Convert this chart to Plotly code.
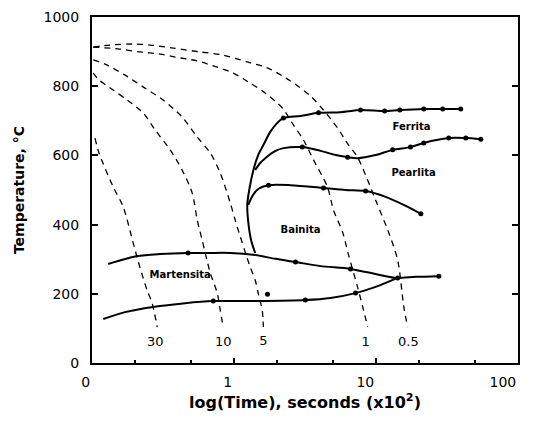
import plotly.graph_objects as go

# ---------------- data (time in x10^2 s, temperature in degC) ----------------
# dashed cooling curves, labelled by cooling rate
cool_30_t = [0.105, 0.112, 0.141, 0.166, 0.195, 0.218, 0.244, 0.265, 0.288]
cool_30_T = [650, 607, 509, 451, 347, 275, 211, 173, 104]

cool_10_t = [0.102, 0.112, 0.141, 0.177, 0.229, 0.279, 0.355, 0.431, 0.508, 0.551, 0.597, 0.627, 0.681, 0.762, 0.800, 0.839]
cool_10_T = [838, 818, 789, 760, 723, 673, 616, 558, 491, 413, 355, 318, 260, 202, 153, 104]

cool_5_t = [0.102, 0.128, 0.171, 0.229, 0.317, 0.431, 0.551, 0.681, 0.800, 0.942, 1.02, 1.11, 1.20, 1.30, 1.41, 1.48, 1.58, 1.61]
cool_5_T = [876, 861, 832, 798, 760, 711, 653, 607, 549, 462, 413, 364, 321, 277, 240, 202, 153, 104]

cool_1_t = [0.102, 0.152, 0.218, 0.302, 0.386, 0.551, 0.762, 0.989, 1.30, 1.60, 2.19, 2.62, 3.08, 3.63, 4.55, 5.02, 5.81, 6.41, 7.41, 8.17, 8.73]
cool_1_T = [913, 908, 899, 893, 884, 873, 855, 838, 809, 785, 737, 688, 645, 587, 509, 442, 379, 312, 220, 153, 104]

cool_05_t = [0.102, 0.134, 0.195, 0.256, 0.373, 0.578, 0.839, 1.24, 1.72, 2.50, 3.45, 4.27, 5.36, 6.41, 7.41, 8.73, 9.93, 12.1, 14.2, 15.7, 16.7]
cool_05_T = [913, 919, 922, 919, 910, 899, 890, 870, 853, 815, 772, 731, 679, 630, 595, 529, 471, 384, 298, 162, 104]

cool_labels = ["30", "10", "5", "1", "0.5"]
cool_label_t = [0.279, 0.839, 1.61, 8.45, 16.9]
cool_label_T = [58, 58, 60, 58, 58]

# solid transformation lines
ferrite_t = [1.41, 1.32, 1.26, 1.24, 1.28, 1.37, 1.48, 1.61, 1.80, 2.02, 2.23, 2.94, 3.94, 5.62, 7.78, 11.5, 14.7, 21.7, 29.5, 39.5]
ferrite_T = [318, 355, 408, 457, 500, 558, 601, 630, 668, 694, 708, 714, 723, 725, 731, 728, 731, 734, 734, 734]

pearlite_t = [1.41, 1.53, 1.66, 1.96, 2.23, 3.03, 4.07, 5.19, 6.31, 7.41, 9.93, 13.1, 17.5, 21.7, 32.5, 42.9, 54.7]
pearlite_T = [558, 578, 592, 613, 621, 624, 613, 601, 595, 592, 601, 616, 624, 636, 650, 650, 647]

bainite_t = [1.26, 1.35, 1.48, 1.75, 2.50, 4.27, 6.10, 8.45, 11.7, 16.2, 20.7]
bainite_T = [457, 483, 503, 514, 514, 506, 500, 497, 480, 454, 431]

ms_t = [0.130, 0.208, 0.302, 0.475, 0.648, 0.942, 1.41, 1.96, 2.71, 4.07, 6.62, 9.93, 13.7, 19.0, 27.7]
ms_T = [286, 309, 315, 318, 318, 318, 312, 301, 292, 280, 272, 257, 246, 249, 251]

mf_t = [0.120, 0.171, 0.269, 0.453, 0.715, 1.46, 3.18, 4.78, 7.18, 9.93, 14.2]
mf_T = [127, 147, 162, 173, 179, 179, 182, 188, 202, 220, 246]

# measured points (dots)
dot_t = [2.23, 3.94, 7.78, 11.5, 14.7, 21.7, 29.5, 39.5,
         3.03, 6.31, 13.1, 17.5, 21.7, 32.5, 42.9, 54.7,
         1.75, 4.27, 8.45, 20.7,
         0.475, 2.71, 6.62, 14.2, 27.7,
         0.715, 3.18, 7.18, 1.72]
dot_T = [708, 723, 731, 728, 731, 734, 734, 734,
         624, 595, 616, 624, 636, 650, 650, 647,
         514, 506, 497, 431,
         318, 292, 272, 246, 251,
         179, 182, 202, 199]

phase_labels = ["Ferrita", "Pearlita", "Bainita", "Martensita"]
phase_t = [17.8, 18.4, 2.94, 0.418]
phase_T = [682, 549, 384, 254]

x_tickvals = [0.1, 1, 10, 100]
x_ticktext = ["0", "1", "10", "100"]
y_tickvals = [0, 200, 400, 600, 800, 1000]

# ---------------- figure ----------------
fig = go.Figure()

dash_style = dict(color="black", width=1.3, dash="6px,5px", shape="spline", smoothing=0.8)
for t, T in [(cool_30_t, cool_30_T), (cool_10_t, cool_10_T), (cool_5_t, cool_5_T),
             (cool_1_t, cool_1_T), (cool_05_t, cool_05_T)]:
    fig.add_trace(go.Scatter(x=t, y=T, mode="lines", line=dash_style, hoverinfo="skip"))

solid_style = dict(color="black", width=2, shape="spline", smoothing=0.8)
for t, T in [(ferrite_t, ferrite_T), (pearlite_t, pearlite_T), (bainite_t, bainite_T),
             (ms_t, ms_T), (mf_t, mf_T)]:
    fig.add_trace(go.Scatter(x=t, y=T, mode="lines", line=solid_style))

fig.add_trace(go.Scatter(x=dot_t, y=dot_T, mode="markers",
                         marker=dict(color="black", size=5)))

fig.add_trace(go.Scatter(x=phase_t, y=phase_T, mode="text", text=phase_labels,
                         textfont=dict(family="DejaVu Sans", size=10, color="black", weight="bold")))
fig.add_trace(go.Scatter(x=cool_label_t, y=cool_label_T, mode="text", text=cool_labels,
                         textfont=dict(family="DejaVu Sans", size=13, color="black")))

# the page body adds an 8 px margin, so the figure is sized to fill the rest of the window
fig.update_layout(
    width=529, height=417,
    margin=dict(l=84, r=19, t=9, b=62),
    paper_bgcolor="white", plot_bgcolor="white",
    showlegend=False,
    font=dict(family="DejaVu Sans", color="black"),
)
fig.update_xaxes(
    type="log", range=[-1, 2], automargin=False,
    tickvals=x_tickvals, ticktext=x_ticktext,
    ticks="inside", ticklen=5, tickwidth=1.5, tickcolor="black",
    minor=dict(ticks="inside", dtick="D2", ticklen=3, tickcolor="black"),
    showgrid=False, zeroline=False,
    showline=True, linecolor="black", linewidth=2, mirror=True,
    tickfont=dict(family="DejaVu Sans", size=14),
    ticklabelposition="outside left",
    ticklabelstandoff=5,
    title=dict(text="log(Time), seconds (x10<sup>2</sup>)",
               font=dict(family="DejaVu Sans", size=16, weight="bold"), standoff=8),
)
fig.update_yaxes(
    range=[0, 1000], automargin=False, tickvals=y_tickvals,
    ticks="inside", ticklen=6, tickwidth=1.5, tickcolor="black",
    showgrid=False, zeroline=False,
    showline=True, linecolor="black", linewidth=2, mirror="ticks",
    tickfont=dict(family="DejaVu Sans", size=14),
    ticklabelstandoff=8,
    title=dict(text="Temperature, °C",
               font=dict(family="DejaVu Sans", size=14, weight="bold"), standoff=16),
)

fig.write_html("out.html")
